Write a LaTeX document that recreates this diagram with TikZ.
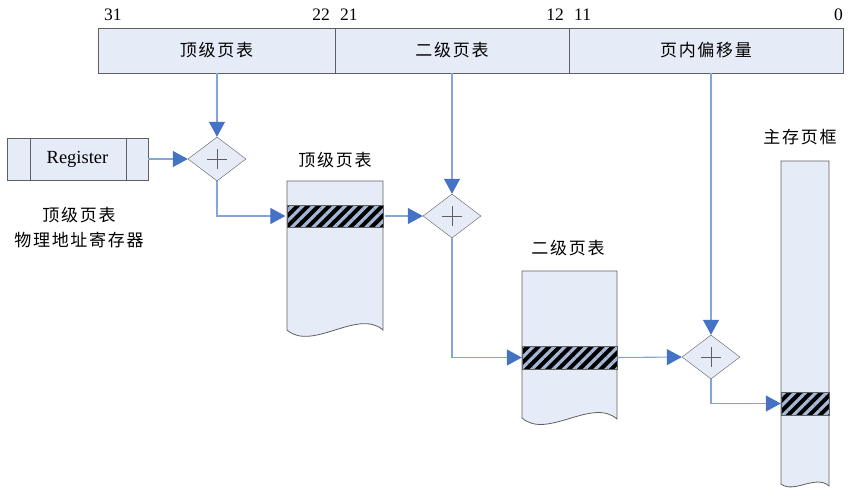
\documentclass[tikz,border=0pt]{standalone}
\usepackage{fontspec}
\setmainfont{Liberation Serif}
\newfontfamily\cjk[LetterSpace=10]{Noto Sans CJK SC}
\usetikzlibrary{shapes.geometric, arrows.meta, patterns.meta}
\definecolor{boxfill}{RGB}{230,236,247}
\definecolor{boxline}{RGB}{95,95,95}
\definecolor{linkblue}{RGB}{130,165,218}
\definecolor{tipblue}{RGB}{68,114,196}
\definecolor{stripe}{RGB}{165,185,215}
\tikzset{
  field/.style={rectangle, draw=boxline, fill=boxfill, minimum height=45pt,
    inner sep=0pt, font=\cjk\fontsize{17}{20}\selectfont},
  bit/.style={inner sep=0pt, font=\fontsize{17.5}{20}\selectfont},
  regbox/.style={rectangle, draw=boxline, fill=boxfill, minimum width=141pt,
    minimum height=42pt, inner sep=0pt, font=\fontsize{18.5}{20}\selectfont},
  cjklabel/.style={inner sep=0pt, align=center, font=\cjk\fontsize{17}{25}\selectfont},
  adder/.style={diamond, draw=boxline, fill=boxfill, minimum width=58pt,
    minimum height=44pt, inner sep=0pt},
  page/.style={draw=boxline, fill=boxfill, line width=0.8pt},
  entry/.style={rectangle, draw=boxline, inner sep=0pt, preaction={fill=black},
    pattern={Lines[angle=45,distance=7.5pt,line width=3.2pt]}, pattern color=stripe},
  link/.style={draw=linkblue, line width=1.1pt,
    -{Triangle[length=15pt,width=16pt,color=tipblue]}},
}
\begin{document}
\begin{tikzpicture}[x=1pt, y=-1pt]
  \useasboundingbox (0,0) rectangle (860,498);
  % virtual address fields
  \node[field, minimum width=237pt] (f1) at (216.5,50.5) {顶级页表};
  \node[field, minimum width=234pt] (f2) at (452,50.5) {二级页表};
  \node[field, minimum width=274pt] (f3) at (706,50.5) {页内偏移量};
  \node[bit, anchor=west] (b31) at (104,15) {31};
  \node[bit, anchor=east] (b22) at (330,15) {22};
  \node[bit, anchor=west] (b21) at (340,15) {21};
  \node[bit, anchor=east] (b12) at (564,15) {12};
  \node[bit, anchor=west] (b11) at (574,15) {11};
  \node[bit, anchor=east] (b0) at (843,15) {0};
  % register
  \node[regbox] (reg) at (77.5,159) {Register};
  \draw[boxline, line width=0.8pt] ([xshift=24pt]reg.north west) -- ([xshift=24pt]reg.south west)
    ([xshift=-22pt]reg.north east) -- ([xshift=-22pt]reg.south east);
  \node[cjklabel] (reglbl) at (79,228) {顶级页表\\物理地址寄存器};
  % page tables and frame
  \draw[page] (287,181) -- (383,181) -- (383,330) .. controls (358,308) and (312,352) .. (287,330) -- cycle;
  \draw[page] (522,271) -- (617,271) -- (617,419) .. controls (592,397) and (547,440) .. (522,418) -- cycle;
  \draw[page] (781,161) -- (829,161) -- (829,486) .. controls (816,474) and (794,494) .. (781,484) -- cycle;
  \node[entry, minimum width=96pt, minimum height=22pt] (row1) at (335,216) {};
  \node[entry, minimum width=95pt, minimum height=23pt] (row2) at (569.5,357.5) {};
  \node[entry, minimum width=48pt, minimum height=23pt] (row3) at (805,403.5) {};
  \node[cjklabel] (t1lbl) at (335,160) {顶级页表};
  \node[cjklabel] (t2lbl) at (568,248) {二级页表};
  \node[cjklabel] (frmlbl) at (800,137) {主存页框};
  % adders
  \node[adder] (d1) at (217,159) {};
  \node[adder] (d2) at (452,216) {};
  \node[adder] (d3) at (711,357) {};
  \foreach \d in {d1,d2,d3}
    \draw[boxline, line width=0.9pt] ([xshift=-10pt]\d.center) -- ([xshift=10pt]\d.center)
      ([yshift=-10pt]\d.center) -- ([yshift=10pt]\d.center);
  % connectors
  \draw[link] (reg.east) -- (d1.west);
  \draw[link] (d1.north |- f1.south) -- (d1.north);
  \draw[link] (d1.south) |- (row1.west);
  \draw[link] (row1.east) -- (d2.west);
  \draw[link] (d2.north |- f2.south) -- (d2.north);
  \draw[link] (d2.south) |- (row2.west);
  \draw[link] (row2.east) -- (d3.west);
  \draw[link] (d3.north |- f3.south) -- (d3.north);
  \draw[link] (d3.south) |- (row3.west);
\end{tikzpicture}
\end{document}
